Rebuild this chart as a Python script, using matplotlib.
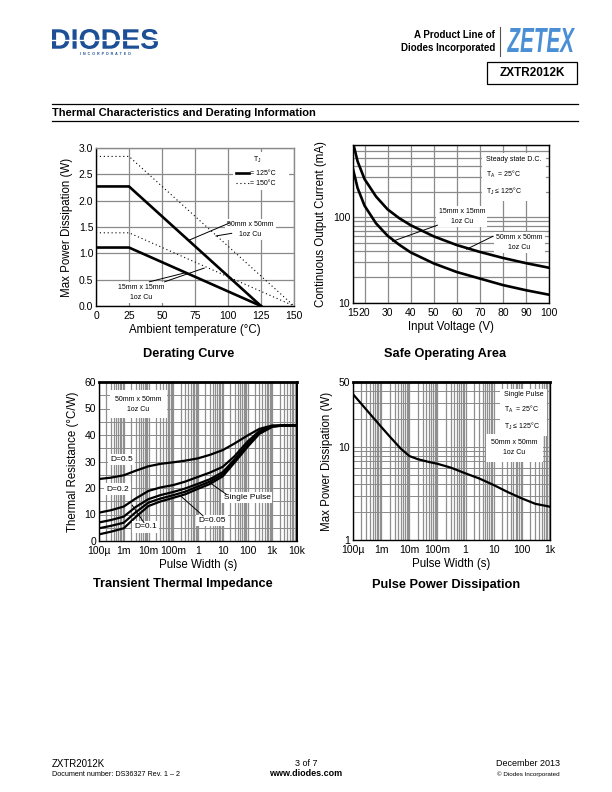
import numpy as np
import matplotlib
matplotlib.use("Agg")
import matplotlib.pyplot as plt
from matplotlib.ticker import LogLocator, FixedLocator, NullFormatter
from matplotlib.textpath import TextPath
from matplotlib.patches import PathPatch, Rectangle
from matplotlib.font_manager import FontProperties
from matplotlib.transforms import Affine2D
from matplotlib.lines import Line2D

plt.rcParams['font.family'] = ['Liberation Sans', 'DejaVu Sans']

W, H = 612, 792

# ---- data: derating curve ----
temp_125 = [0, 25, 125]
temp_150 = [0, 25, 150]
p_50mm_125 = [2.27, 2.27, 0.0]
p_15mm_125 = [1.11, 1.11, 0.0]
p_50mm_150 = [2.84, 2.84, 0.0]
p_15mm_150 = [1.39, 1.39, 0.0]

# ---- data: safe operating area ----
v_15mm = [15, 17, 20, 25, 30, 35, 40, 50, 60, 70, 80, 90, 100]
i_15mm = [367, 220, 137, 85, 61, 48, 39, 29, 23, 19.3, 16.2, 14.1, 12.5]
v_50mm = [15.3, 17, 20, 25, 30, 35, 40, 50, 60, 70, 80, 90, 100]
i_50mm = [690, 450, 280, 175, 124, 98, 81, 60, 47.5, 39.5, 33.6, 29.2, 25.8]

# ---- data: transient thermal impedance ----
t_pulse = [1e-4, 3e-4, 1e-3, 3e-3, 1e-2, 3e-2, 1e-1, 3e-1, 1, 3, 10, 30, 100, 300, 1e3, 3e3, 1e4]
r_d05 = [23.4, 23.9, 24.8, 26.5, 28.2, 29.1, 29.7, 30.3, 31.2, 32.5, 34.3, 36.8, 39.8, 42.3, 43.6, 43.6, 43.6]
r_d02 = [10.7, 11.6, 13.0, 16.0, 18.9, 20.2, 21.1, 22.4, 24.2, 25.8, 28.0, 32.0, 37.5, 41.5, 43.4, 43.6, 43.6]
r_d01 = [7.0, 7.9, 9.2, 12.8, 15.8, 17.3, 18.5, 19.8, 21.6, 23.3, 26.0, 30.8, 36.5, 41.0, 43.3, 43.6, 43.6]
r_d005 = [4.8, 5.7, 6.9, 10.8, 14.5, 16.0, 17.3, 18.6, 20.6, 22.4, 25.2, 30.2, 36.0, 40.7, 43.2, 43.6, 43.6]
r_single = [2.5, 3.5, 4.8, 9.0, 13.2, 14.9, 16.3, 17.6, 19.7, 21.5, 24.4, 29.6, 35.5, 40.4, 43.1, 43.6, 43.6]

# ---- data: pulse power dissipation ----
t_ppd = [1e-4, 2e-4, 5e-4, 1e-3, 2e-3, 5e-3, 1e-2, 2e-2, 5e-2, 1e-1, 3e-1, 1, 3, 10, 30, 100, 300, 1e3]
p_ppd = [37, 29, 21, 16.5, 13, 9.6, 8.0, 7.4, 6.9, 6.6, 6.0, 5.2, 4.6, 3.9, 3.3, 2.8, 2.45, 2.28]

pw_ticks = [1e-4, 1e-3, 1e-2, 1e-1, 1, 10, 100, 1e3, 1e4]
pw_labels = ['100µ', '1m', '10m', '100m', '1', '10', '100', '1k', '10k']

GRID = '#8a8a8a'
VGRID = '#8f8f8f'
TICK_FS = 7.5
LAB_FS = 8.3
NOTE_FS = 5
WBOX = dict(facecolor='white', edgecolor='none', pad=1.5)


def px(x, y):
    return x / W, 1 - y / H


def axes_px(left, top, right, bottom):
    return fig.add_axes([left / W, 1 - bottom / H, (right - left) / W, (bottom - top) / H])


def logo(text, box, color, style):
    tp = TextPath((0, 0), text, size=10,
                  prop=FontProperties(family='Liberation Sans', weight='bold', style=style))
    bb = tp.get_extents()
    x0, y0, x1, y1 = box
    tr = (Affine2D().translate(-bb.x0, -bb.y0)
          .scale((x1 - x0) / bb.width, (y1 - y0) / bb.height)
          .translate(x0, H - y1))
    fig.add_artist(PathPatch(tp, transform=tr, facecolor=color, edgecolor='none'))


def style_axes(ax):
    ax.tick_params(which='both', length=0, labelsize=TICK_FS)
    ax.tick_params(axis='x', pad=3.5)
    ax.tick_params(axis='y', pad=2)
    for s in ax.spines.values():
        s.set_color('black')
        s.set_linewidth(1.0)
    ax.set_axisbelow(True)


fig = plt.figure(figsize=(W / 100, H / 100), dpi=100)

# ---- header ----
logo('DIODES', (52, 29, 158, 49), '#1c4f96', 'normal')
fig.add_artist(Line2D([52 / W, 158 / W], [1 - 40 / H] * 2, transform=fig.transFigure,
                      color='white', lw=1.0))
fig.text(*px(105, 54), 'I  N  C  O  R  P  O  R  A  T  E  D', fontsize=2.6,
         fontweight='bold', color='#1c4f96', ha='center', va='center')
fig.text(*px(495, 35), 'A Product Line of', fontsize=7, fontweight='bold',
         ha='right', va='center')
fig.text(*px(495, 48), 'Diodes Incorporated', fontsize=7, fontweight='bold',
         ha='right', va='center')
fig.add_artist(Line2D([500 / W] * 2, [1 - 27 / H, 1 - 56 / H], transform=fig.transFigure,
                      color='#555555', lw=0.8))
logo('ZETEX', (507, 28, 575, 52), '#4a8fd6', 'italic')
fig.add_artist(Rectangle(px(487, 84), 90 / W, 22 / H, transform=fig.transFigure,
                         facecolor='none', edgecolor='black', lw=0.9))
fig.text(*px(532, 73), 'ZXTR2012K', fontsize=8.5, fontweight='bold', ha='center', va='center')

for yy in (104, 121):
    fig.add_artist(Line2D([52 / W, 578 / W], [1 - yy / H] * 2, transform=fig.transFigure,
                          color='black', lw=0.9))
fig.text(*px(52, 113), 'Thermal Characteristics and Derating Information', fontsize=8,
         fontweight='bold', ha='left', va='center')

# ---- chart 1: derating curve ----
ax1 = axes_px(96, 148, 294, 306)
ax1.plot(temp_125, p_50mm_125, color='black', lw=1.9, solid_joinstyle='miter')
ax1.plot(temp_125, p_15mm_125, color='black', lw=1.9, solid_joinstyle='miter')
ax1.plot(temp_150, p_50mm_150, color='black', lw=0.8, ls=(0, (1, 2.5)))
ax1.plot(temp_150, p_15mm_150, color='black', lw=0.8, ls=(0, (1, 2.5)))
ax1.set_xlim(0, 150)
ax1.set_ylim(0, 3.0)
ax1.set_xticks(np.arange(0, 151, 25))
ax1.set_yticks(np.arange(0, 3.01, 0.5))
ax1.set_yticklabels([f'{v:.1f}' for v in np.arange(0, 3.01, 0.5)])
ax1.grid(True, color=GRID, lw=0.9)
style_axes(ax1)
ax1.spines['top'].set_color(GRID)
ax1.spines['right'].set_color(GRID)
ax1.set_xlabel('Ambient temperature (°C)', fontsize=LAB_FS, labelpad=2)
ax1.set_ylabel('Max Power Dissipation (W)', fontsize=LAB_FS, labelpad=4)
ax1.add_patch(Rectangle((104, 2.2), 42, 0.72, facecolor='white', edgecolor='none', zorder=2))
ax1.text(122, 2.78, 'T$_\\mathregular{J}$', fontsize=NOTE_FS, ha='center', va='center', zorder=3)
ax1.plot([106, 116], [2.52, 2.52], color='black', lw=1.9, zorder=3)
ax1.plot([106, 116], [2.33, 2.33], color='black', lw=0.8, ls=(0, (1, 2.5)), zorder=3)
ax1.text(117, 2.52, '= 125°C', fontsize=NOTE_FS, va='center', zorder=3)
ax1.text(117, 2.33, '= 150°C', fontsize=NOTE_FS, va='center', zorder=3)
ax1.text(117, 1.45, '50mm x 50mm\n1oz Cu', fontsize=NOTE_FS, ha='center', va='center',
         linespacing=1.6, bbox=WBOX, zorder=3)
ax1.plot([70.5, 101.5], [1.25, 1.58], color='black', lw=0.7, zorder=3)
ax1.plot([90.9, 102.8], [1.33, 1.38], color='black', lw=0.7, zorder=3)
ax1.text(34, 0.25, '15mm x 15mm\n1oz Cu', fontsize=NOTE_FS, ha='center', va='center',
         linespacing=1.6, bbox=WBOX, zorder=3)
ax1.plot([40.5, 67.5], [0.46, 0.63], color='black', lw=0.7, zorder=3)
ax1.plot([52, 82], [0.46, 0.72], color='black', lw=0.7, zorder=3)
fig.text(*px(189, 354), 'Derating Curve', fontsize=9.2, fontweight='bold',
         ha='center', va='center')

# ---- chart 2: safe operating area ----
ax2 = axes_px(353, 145, 549, 303)
ax2.plot(v_50mm, i_50mm, color='black', lw=1.9)
ax2.plot(v_15mm, i_15mm, color='black', lw=1.9)
ax2.set_yscale('log')
ax2.set_xlim(15, 100)
ax2.set_ylim(10, 700)
ax2.set_xticks([15, 20, 30, 40, 50, 60, 70, 80, 90, 100])
ax2.set_xticklabels(['15', '20', '30', '40', '50', '60', '70', '80', '90', '100'])
ax2.yaxis.set_major_locator(FixedLocator([10, 100]))
ax2.yaxis.set_major_formatter(plt.FuncFormatter(lambda v, p: f'{v:.0f}'))
ax2.yaxis.set_minor_locator(LogLocator(base=10, subs=np.arange(2, 10), numticks=20))
ax2.yaxis.set_minor_formatter(NullFormatter())
ax2.grid(True, which='both', color=GRID, lw=0.9)
style_axes(ax2)
ax2.set_xlabel('Input Voltage (V)', fontsize=LAB_FS, labelpad=2)
ax2.set_ylabel('Continuous Output Current (mA)', fontsize=LAB_FS, labelpad=4)
ax2.text(0.68, 0.93, 'Steady state D.C.\nT$_\\mathregular{A}$  = 25°C\nT$_\\mathregular{J}$ ≤ 125°C',
         transform=ax2.transAxes, fontsize=NOTE_FS, ha='left', va='top', linespacing=1.7,
         bbox=dict(facecolor='white', edgecolor='none', pad=3), zorder=3)
ax2.text(0.555, 0.55, '15mm x 15mm\n1oz Cu', transform=ax2.transAxes, fontsize=NOTE_FS,
         ha='center', va='center', linespacing=1.6, bbox=WBOX, zorder=3)
ax2.plot([32.2, 51.6], [52.6, 81], color='black', lw=0.7, zorder=3)
ax2.text(0.85, 0.385, '50mm x 50mm\n1oz Cu', transform=ax2.transAxes, fontsize=NOTE_FS,
         ha='center', va='center', linespacing=1.6, bbox=WBOX, zorder=3)
ax2.plot([64.3, 75.6], [42.5, 60], color='black', lw=0.7, zorder=3)
fig.text(*px(445, 354), 'Safe Operating Area', fontsize=9.2, fontweight='bold',
         ha='center', va='center')

# ---- chart 3: transient thermal impedance ----
ax3 = axes_px(99, 382, 297, 541)
for r in (r_d05, r_d02, r_d01, r_d005, r_single):
    ax3.plot(t_pulse, r, color='black', lw=1.6)
ax3.set_xscale('log')
ax3.set_xlim(1e-4, 1e4)
ax3.set_ylim(0, 60)
ax3.set_xticks(pw_ticks)
ax3.set_xticklabels(pw_labels)
ax3.xaxis.set_minor_locator(LogLocator(base=10, subs=np.arange(2, 10), numticks=100))
ax3.xaxis.set_minor_formatter(NullFormatter())
ax3.set_yticks(np.arange(0, 61, 10))
ax3.set_yticks(np.arange(0, 61, 5), minor=True)
ax3.grid(True, which='both', axis='x', color=VGRID, lw=0.9)
ax3.grid(True, which='both', axis='y', color=GRID, lw=0.7)
style_axes(ax3)
ax3.spines['top'].set_linewidth(2)
ax3.spines['right'].set_linewidth(1.4)
ax3.set_xlabel('Pulse Width (s)', fontsize=LAB_FS, labelpad=2)
ax3.set_ylabel('Thermal Resistance (°C/W)', fontsize=LAB_FS, labelpad=4)
ax3.text(0.2, 0.86, '50mm x 50mm\n1oz Cu', transform=ax3.transAxes, fontsize=NOTE_FS,
         ha='center', va='center', linespacing=1.6,
         bbox=dict(facecolor='white', edgecolor='none', pad=4), zorder=3)
ax3.text(8e-4, 30.9, 'D=0.5', fontsize=6, ha='center', va='center', bbox=WBOX, zorder=3)
ax3.text(5.5e-4, 19.6, 'D=0.2', fontsize=6, ha='center', va='center', bbox=WBOX, zorder=3)
ax3.text(0.0075, 5.3, 'D=0.1', fontsize=6, ha='center', va='center', bbox=WBOX, zorder=3)
ax3.plot([0.0065, 0.0022], [7.0, 13.5], color='black', lw=0.7, zorder=3)
ax3.text(3.6, 7.7, 'D=0.05', fontsize=6, ha='center', va='center', bbox=WBOX, zorder=3)
ax3.plot([1.6, 0.2], [9.5, 17.0], color='black', lw=0.7, zorder=3)
ax3.text(95, 16.3, 'Single Pulse', fontsize=6, ha='center', va='center', bbox=WBOX, zorder=3)
ax3.plot([14, 3.0], [17.6, 22.0], color='black', lw=0.7, zorder=3)
fig.text(*px(183, 584), 'Transient Thermal Impedance', fontsize=9.2, fontweight='bold',
         ha='center', va='center')

# ---- chart 4: pulse power dissipation ----
ax4 = axes_px(353, 382, 550, 540)
ax4.plot(t_ppd, p_ppd, color='black', lw=1.6)
ax4.set_xscale('log')
ax4.set_yscale('log')
ax4.set_xlim(1e-4, 1e3)
ax4.set_ylim(1, 50)
ax4.set_xticks(pw_ticks[:-1])
ax4.set_xticklabels(pw_labels[:-1])
ax4.xaxis.set_minor_locator(LogLocator(base=10, subs=np.arange(2, 10), numticks=100))
ax4.xaxis.set_minor_formatter(NullFormatter())
ax4.yaxis.set_major_locator(FixedLocator([1, 10, 50]))
ax4.yaxis.set_major_formatter(plt.FuncFormatter(lambda v, p: f'{v:.0f}'))
ax4.yaxis.set_minor_locator(FixedLocator([2, 3, 4, 5, 6, 7, 8, 9, 20, 30, 40]))
ax4.yaxis.set_minor_formatter(NullFormatter())
ax4.grid(True, which='both', axis='x', color=VGRID, lw=0.9)
ax4.grid(True, which='both', axis='y', color=GRID, lw=0.7)
style_axes(ax4)
ax4.spines['top'].set_linewidth(2)
ax4.set_xlabel('Pulse Width (s)', fontsize=LAB_FS, labelpad=2)
ax4.set_ylabel('Max Power Dissipation (W)', fontsize=LAB_FS, labelpad=4)
ax4.text(0.765, 0.94, 'Single Pulse\nT$_\\mathregular{A}$  = 25°C\nT$_\\mathregular{J}$ ≤ 125°C',
         transform=ax4.transAxes, fontsize=NOTE_FS, ha='left', va='top', linespacing=1.7,
         bbox=dict(facecolor='white', edgecolor='none', pad=3), zorder=3)
ax4.text(0.82, 0.585, '50mm x 50mm\n1oz Cu', transform=ax4.transAxes, fontsize=NOTE_FS,
         ha='center', va='center', linespacing=1.6,
         bbox=dict(facecolor='white', edgecolor='none', pad=4), zorder=3)
fig.text(*px(446, 585), 'Pulse Power Dissipation', fontsize=9.2, fontweight='bold',
         ha='center', va='center')

# ---- footer ----
fig.text(*px(52, 764), 'ZXTR2012K', fontsize=7, ha='left', va='center')
fig.text(*px(52, 774), 'Document number: DS36327 Rev. 1 – 2', fontsize=5.2, ha='left', va='center')
fig.text(*px(306, 764), '3 of 7', fontsize=6.5, ha='center', va='center')
fig.text(*px(306, 774), 'www.diodes.com', fontsize=6.5, fontweight='bold', ha='center', va='center')
fig.text(*px(560, 764), 'December 2013', fontsize=6.5, ha='right', va='center')
fig.text(*px(560, 774), '© Diodes Incorporated', fontsize=4.5, ha='right', va='center')

fig.savefig('out.png', dpi=100)
